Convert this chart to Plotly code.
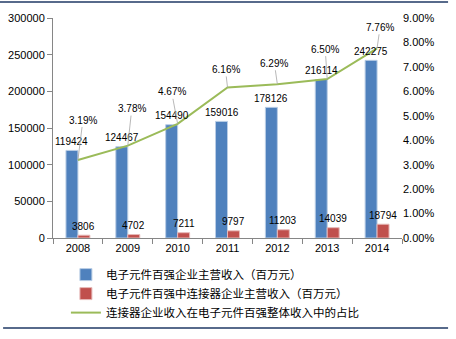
import plotly.graph_objects as go

years = ["2008", "2009", "2010", "2011", "2012", "2013", "2014"]
total_rev = [119424, 124467, 154490, 159016, 178126, 216114, 242275]
conn_rev = [3806, 4702, 7211, 9797, 11203, 14039, 18794]
share_pct = [3.19, 3.78, 4.67, 6.16, 6.29, 6.50, 7.76]

name_total = "电子元件百强企业主营收入（百万元）"
name_conn = "电子元件百强中连接器企业主营收入（百万元）"
name_share = "连接器企业收入在电子元件百强整体收入中的占比"

# label offsets (pixels) for the percentage call-outs
pct_dx = [5, 4, -6, -2, -3, -2, 3]
pct_dy = [-40, -37, -32, -18, -21, -30, -21]

BLUE = "#4F81BD"
RED = "#C0504D"
GREEN = "#9BBB59"
AXIS = "#868686"
CJK = "Noto Sans CJK SC"
NUM = "Liberation Sans"

fig = go.Figure()
fig.add_trace(go.Bar(
    x=years, y=total_rev, name=name_total,
    marker=dict(color=BLUE, line=dict(color="#B9CDE5", width=1)),
    offsetgroup="a",
))
fig.add_trace(go.Bar(
    x=years, y=conn_rev, name=name_conn,
    marker=dict(color=RED, line=dict(color="#E6B9B8", width=1)),
    offsetgroup="b",
))
fig.add_trace(go.Scatter(
    x=years, y=[v / 100 for v in share_pct], name=name_share,
    mode="lines", line=dict(color=GREEN, width=2), yaxis="y2",
))

# annotations are positioned by category index on the category axis
ann = []
for i, v in enumerate(total_rev):
    ann.append(dict(x=i, y=v, xref="x", yref="y", text=str(v), showarrow=False,
                    xshift=-6, yshift=9, font=dict(family=NUM, size=10, color="#000")))
for i, v in enumerate(conn_rev):
    ann.append(dict(x=i, y=v, xref="x", yref="y", text=str(v), showarrow=False,
                    xshift=6, yshift=9, font=dict(family=NUM, size=10, color="#000")))
for i, (p, dx, dy) in enumerate(zip(share_pct, pct_dx, pct_dy)):
    ann.append(dict(x=i, y=p / 100, xref="x", yref="y2", text=f"{p:.2f}%",
                    showarrow=True, arrowhead=0, arrowwidth=0.8, arrowcolor="#A6A6A6",
                    ax=dx, ay=dy, standoff=0,
                    font=dict(family=NUM, size=10, color="#000")))

fig.update_layout(
    width=456, height=339,
    margin=dict(l=53, r=54, t=18, b=96),
    paper_bgcolor="white", plot_bgcolor="white",
    barmode="group", bargap=0.52, bargroupgap=0,
    showlegend=True,
    legend=dict(x=0.037, y=-0.405, xanchor="left", yanchor="bottom",
                font=dict(family=CJK, size=11.5, color="#000"),
                itemwidth=30, tracegroupgap=0, bgcolor="rgba(0,0,0,0)"),
    xaxis=dict(type="category", range=[-0.5, 6.5], autorange=False, automargin=False,
               showline=True, linecolor=AXIS, linewidth=1,
               ticks="outside", tickson="boundaries", ticklen=5, tickcolor=AXIS,
               tickfont=dict(family=NUM, size=11, color="#000"), showgrid=False),
    yaxis=dict(range=[0, 300000], dtick=50000, showline=True, linecolor=AXIS,
               automargin=False,
               ticks="outside", ticklen=5, tickcolor=AXIS, showgrid=False,
               zeroline=False, tickformat="d",
               tickfont=dict(family=NUM, size=11, color="#000")),
    yaxis2=dict(range=[0, 0.09], dtick=0.01, tickformat=".2%", overlaying="y",
                side="right", showline=False, showgrid=False, zeroline=False,
                automargin=False,
                ticks="", tickfont=dict(family=NUM, size=11, color="#000")),
    annotations=ann,
    shapes=[
        dict(type="line", xref="paper", yref="paper", x0=-0.152, x1=1.132,
             y0=1.073, y1=1.073, line=dict(color="#1F3864", width=1.5)),
        dict(type="line", xref="paper", yref="paper", x0=-0.143, x1=1.132,
             y0=-0.409, y1=-0.409, line=dict(color="#1F3864", width=1.5)),
    ],
)

fig.write_html("out.html")
